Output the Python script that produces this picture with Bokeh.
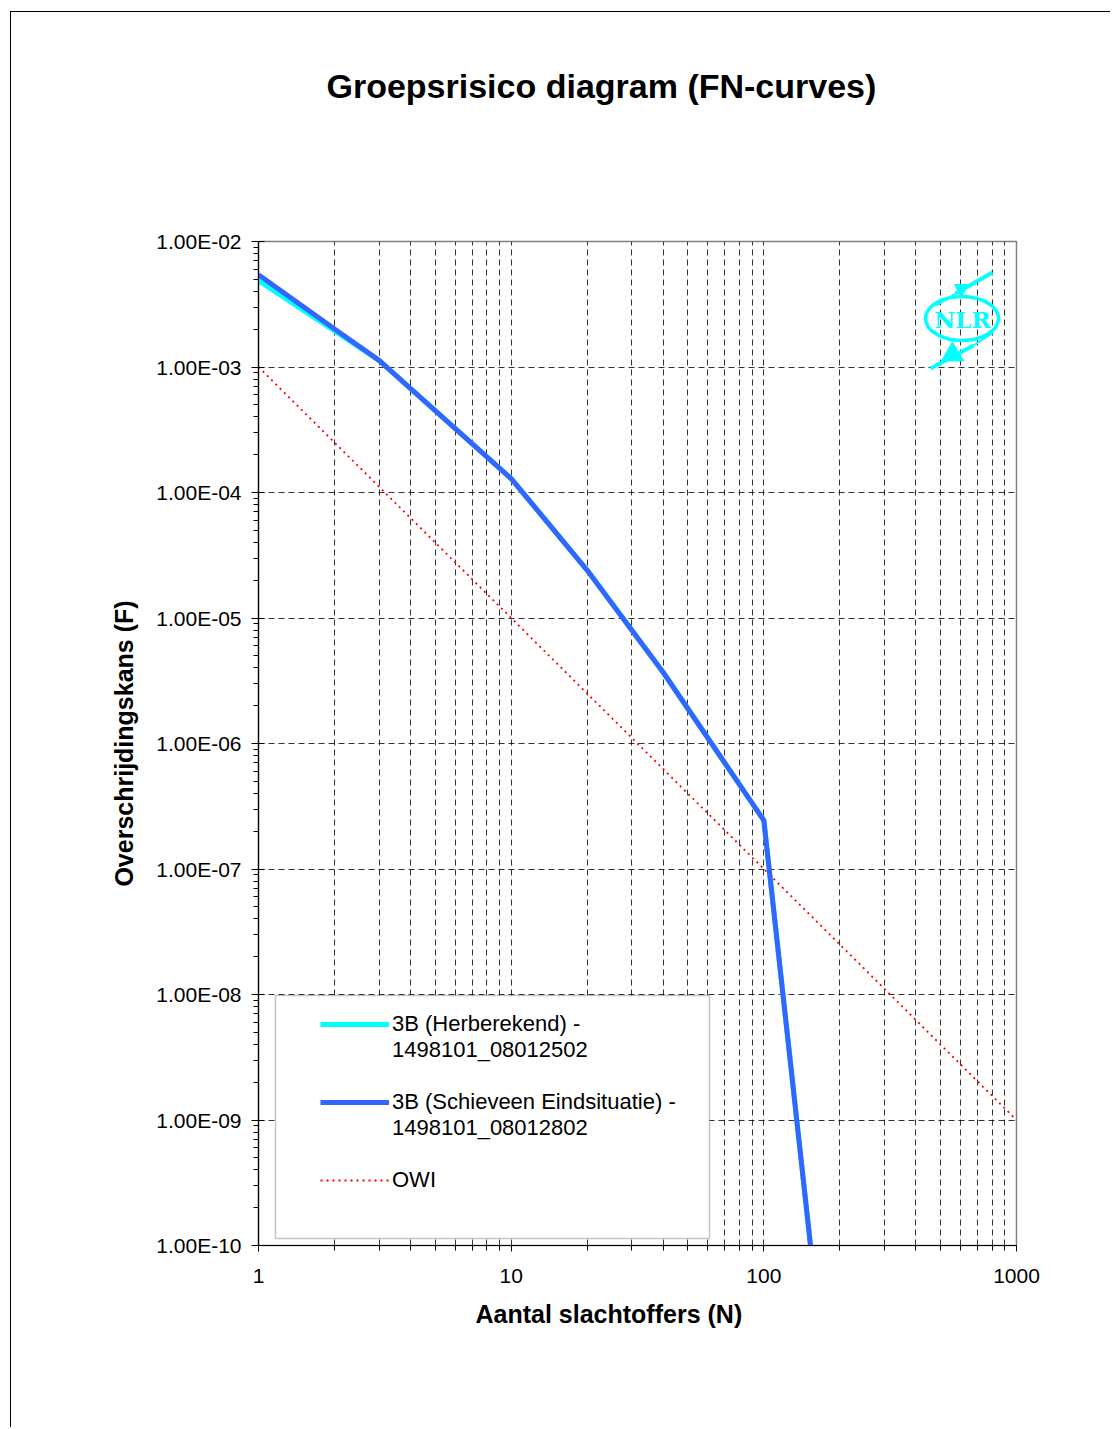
import math
from bokeh.plotting import figure
from bokeh.models import (FixedTicker, CustomJSTickFormatter, Legend, LegendItem,
                          Title, BoxAnnotation, Range1d)
from bokeh.embed import file_html
from bokeh.resources import INLINE
from bokeh.core.properties import value

# ---------------- data ----------------
n_herberekend = [1, 2, 3, 10, 20, 40, 100, 200]
f_herberekend = [4.88e-3, 1.94e-3, 1.13e-3, 1.29e-4, 2.40e-5, 3.68e-6, 2.44e-7, 7.4e-13]

n_schieveen = [1, 2, 3, 10, 20, 40, 100, 200]
f_schieveen = [5.43e-3, 2.01e-3, 1.13e-3, 1.29e-4, 2.40e-5, 3.68e-6, 2.44e-7, 7.4e-13]

n_owi = [1, 10, 100, 1000]
f_owi = [1e-3, 1e-5, 1e-7, 1e-9]

x_ticks = [1, 10, 100, 1000]
x_tick_labels = ["1", "10", "100", "1000"]
y_ticks = [1e-2, 1e-3, 1e-4, 1e-5, 1e-6, 1e-7, 1e-8, 1e-9, 1e-10]
y_tick_labels = ["1.00E-02", "1.00E-03", "1.00E-04", "1.00E-05", "1.00E-06",
                 "1.00E-07", "1.00E-08", "1.00E-09", "1.00E-10"]

label_herberekend = ["3B (Herberekend) -", "1498101_08012502"]
label_schieveen = ["3B (Schieveen Eindsituatie) -", "1498101_08012802"]
label_owi = "OWI"

title_text = "Groepsrisico diagram (FN-curves)"
x_label = "Aantal slachtoffers (N)"
y_label = "Overschrijdingskans (F)"

FONT = "Liberation Sans"

# ---------------- layout ----------------
W, H = 1100, 1416
FRAME_L, FRAME_T, FRAME_W, FRAME_H = 247, 229, 758, 1004

x_minor = [m * 10 ** k for k in range(0, 3) for m in range(2, 10)]
y_minor = [m * 10.0 ** k for k in range(-10, -2) for m in range(2, 10)]

p = figure(width=W, height=H, x_axis_type="log", y_axis_type="log",
           x_range=Range1d(1, 1000), y_range=Range1d(1e-10, 1e-2),
           output_backend="svg", toolbar_location=None, title=None,
           min_border_left=FRAME_L, min_border_top=FRAME_T,
           min_border_right=W - FRAME_L - FRAME_W,
           min_border_bottom=H - FRAME_T - FRAME_H)
p.margin = (11, 0, 0, 10)
p.styles = {"border-left": "1px solid black", "border-top": "1px solid black"}
p.background_fill_color = "white"
p.border_fill_color = "white"
p.outline_line_color = "#808080"
p.outline_line_width = 1.5


# pixel -> data mapping (used only for decorations: legend box and logo)
def px_x(px):
    return 10 ** ((px - 258) / (FRAME_W / 3.0))


def px_y(py):
    return 10 ** (-2 - (py - 241) / (FRAME_H / 8.0))


xt = FixedTicker(ticks=x_ticks, minor_ticks=x_minor)
yt = FixedTicker(ticks=y_ticks, minor_ticks=y_minor)
p.xaxis.ticker = xt
p.yaxis.ticker = yt
p.xgrid.ticker = xt
p.ygrid.ticker = yt

fmt_code = """
let best = 0, bd = Infinity;
for (let i = 0; i < tks.length; i++) {
  const d = Math.abs(Math.log10(tks[i]) - Math.log10(tick));
  if (d < bd) { bd = d; best = i; }
}
return labs[best];
"""
p.xaxis.formatter = CustomJSTickFormatter(args=dict(tks=x_ticks, labs=x_tick_labels), code=fmt_code)
p.yaxis.formatter = CustomJSTickFormatter(args=dict(tks=y_ticks, labs=y_tick_labels), code=fmt_code)

for ax in (p.xaxis[0], p.yaxis[0]):
    ax.axis_line_color = "black"
    ax.axis_line_width = 1.2
    ax.major_tick_line_color = "black"
    ax.minor_tick_line_color = "black"
    ax.major_label_text_font = FONT
    ax.major_label_text_font_size = "21px"
    ax.major_label_text_color = "black"
    ax.minor_tick_in = 0
    ax.minor_tick_out = 5

p.xaxis.major_tick_in = 0
p.xaxis.major_tick_out = 6
p.xaxis.major_label_standoff = 17
p.yaxis.major_tick_in = 6
p.yaxis.major_tick_out = 7
p.yaxis.major_label_standoff = 10

p.yaxis.axis_label = y_label
p.yaxis.axis_label_text_font = FONT
p.yaxis.axis_label_text_font_size = "25px"
p.yaxis.axis_label_text_font_style = "bold"
p.yaxis.axis_label_text_color = "black"
p.yaxis.axis_label_standoff = 15

# grids
for g in (p.xgrid[0], p.ygrid[0]):
    g.grid_line_color = "black"
    g.grid_line_dash = "6 4"
    g.grid_line_alpha = 0.8
p.xgrid.minor_grid_line_color = "black"
p.xgrid.minor_grid_line_dash = "6 4"
p.xgrid.minor_grid_line_alpha = 0.8
p.ygrid.minor_grid_line_color = None

# title (with an invisible spacer between title and frame) and x-axis label
spacer = Title(text=" ", align="left", vertical_align="top", standoff=132,
               text_font=FONT, text_font_size="1px", text_color="white")
p.add_layout(spacer, "above")
t = Title(text=title_text, align="left", offset=68, vertical_align="top", standoff=0,
          text_font=FONT, text_font_size="34px", text_font_style="bold", text_color="black")
p.add_layout(t, "above")
tx = Title(text=x_label, align="left", offset=217, vertical_align="top", standoff=28,
           text_font=FONT, text_font_size="25px", text_font_style="bold", text_color="black")
p.add_layout(tx, "below")

# series
r_owi = p.line(n_owi, f_owi, line_color="#FF0000", line_width=1.8, line_dash="2 4")
r_cyan = p.line(n_herberekend, f_herberekend, line_color="#00FFFF", line_width=5)
r_blue = p.line(n_schieveen, f_schieveen, line_color="#3366FF", line_width=5)

# NLR logo (decoration)
LOGO = "#00FFFF"
p.ellipse(x=[px_x(961.5)], y=[px_y(318)], width=73, height=44,
          width_units="screen", height_units="screen",
          fill_color=None, line_color=LOGO, line_width=3.5)
p.text(x=[px_x(962)], y=[px_y(319)], text=["NLR"], text_font=value("DejaVu Serif"),
       text_font_style="bold", text_font_size="23px", text_color=LOGO,
       text_align="center", text_baseline="middle")
p.segment(x0=[px_x(936), px_x(955), px_x(993), px_x(973)],
          y0=[px_y(305), px_y(293), px_y(332), px_y(345)],
          x1=[px_x(955), px_x(992), px_x(973), px_x(930)],
          y1=[px_y(293), px_y(272), px_y(345), px_y(368)],
          line_color=LOGO, line_width=[2, 4, 2, 4])
p.scatter(x=[px_x(961), px_x(952)], y=[px_y(288), px_y(354)], marker="triangle",
          size=[14, 22], angle=[-1.05, 2.10], fill_color=LOGO, line_color=LOGO)

# legend box + legend
box = BoxAnnotation(left=px_x(275), right=px_x(709), top=px_y(995), bottom=px_y(1238),
                    fill_color="white", fill_alpha=1.0, line_color="#404040", line_width=1.5)
p.add_layout(box)

legend = Legend(items=[LegendItem(label=label_herberekend[0], renderers=[r_cyan]),
                       LegendItem(label=label_herberekend[1], renderers=[]),
                       LegendItem(label=" ", renderers=[]),
                       LegendItem(label=label_schieveen[0], renderers=[r_blue]),
                       LegendItem(label=label_schieveen[1], renderers=[]),
                       LegendItem(label=" ", renderers=[]),
                       LegendItem(label=label_owi, renderers=[r_owi])],
                location=(62, 52), padding=0, spacing=0, glyph_width=69, glyph_height=26,
                label_height=26, label_standoff=3, label_text_font=FONT,
                label_text_font_size="22px", label_text_color="black",
                border_line_alpha=0, background_fill_alpha=0, margin=0)
p.add_layout(legend)

open("out.html", "w").write(file_html(p, INLINE))
